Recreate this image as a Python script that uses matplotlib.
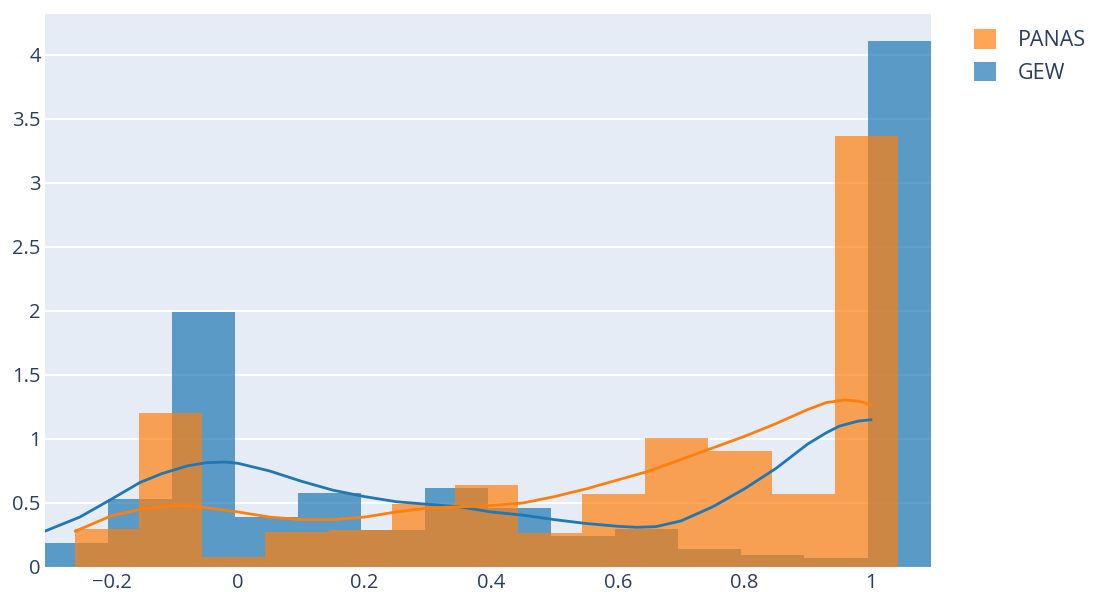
import matplotlib.pyplot as plt
from matplotlib.patches import Patch
import numpy as np

# histogram densities (bin width 0.1)
bin_size = 0.1
gew_start = -0.305
gew_density = [0.19, 0.53, 1.99, 0.39, 0.58, 0.29, 0.62, 0.46, 0.24, 0.30, 0.14, 0.094, 0.07, 4.11]
panas_start = -0.257
panas_density = [0.295, 1.20, 0.075, 0.275, 0.29, 0.49, 0.64, 0.265, 0.57, 1.01, 0.905, 0.57, 3.37]

# kde curves
gew_curve_x = [-0.305, -0.25, -0.2, -0.155, -0.12, -0.08, -0.05, -0.02, 0.0, 0.05, 0.1, 0.15, 0.2, 0.25,
               0.3, 0.35, 0.4, 0.45, 0.5, 0.55, 0.6, 0.63, 0.66, 0.7, 0.75, 0.8, 0.85, 0.9, 0.93,
               0.95, 0.98, 1.0]
gew_curve_y = [0.28, 0.39, 0.53, 0.66, 0.73, 0.79, 0.815, 0.82, 0.81, 0.75, 0.67, 0.60, 0.55, 0.51,
               0.49, 0.47, 0.43, 0.405, 0.37, 0.34, 0.318, 0.31, 0.315, 0.36, 0.47, 0.61, 0.77, 0.96,
               1.05, 1.10, 1.14, 1.15]
panas_curve_x = [-0.257, -0.2, -0.15, -0.1, -0.07, -0.03, 0.0, 0.05, 0.1, 0.15, 0.2, 0.25, 0.3, 0.35,
                 0.4, 0.45, 0.5, 0.55, 0.6, 0.65, 0.7, 0.75, 0.8, 0.85, 0.9, 0.93, 0.96, 0.98, 1.0]
panas_curve_y = [0.28, 0.40, 0.455, 0.48, 0.475, 0.45, 0.43, 0.39, 0.37, 0.37, 0.39, 0.43, 0.46, 0.47,
                 0.48, 0.50, 0.55, 0.61, 0.68, 0.75, 0.84, 0.93, 1.02, 1.12, 1.23, 1.285, 1.305, 1.295, 1.27]

blue = '#1f77b4'
orange = '#ff7f0e'
text_col = '#2a3f5f'

plt.rcParams['font.family'] = ['Open Sans', 'DejaVu Sans']

fig = plt.figure(figsize=(10.94, 5.92), dpi=100)
ax = fig.add_axes([45 / 1094, 25 / 592, 886 / 1094, 553 / 592])
ax.set_facecolor('#E5ECF6')

gew_edges = gew_start + bin_size * np.arange(len(gew_density))
panas_edges = panas_start + bin_size * np.arange(len(panas_density))
ax.bar(gew_edges, gew_density, width=bin_size, align='edge', color=blue, alpha=0.7, linewidth=0, zorder=2)
ax.bar(panas_edges, panas_density, width=bin_size, align='edge', color=orange, alpha=0.7, linewidth=0, zorder=3)

ax.plot(gew_curve_x, gew_curve_y, color=blue, lw=2.0, zorder=4, solid_joinstyle='round')
ax.plot(panas_curve_x, panas_curve_y, color=orange, lw=2.0, zorder=5, solid_joinstyle='round')

ax.set_xlim(-0.305, 1.095)
ax.set_ylim(0, 4.32)

xt = [-0.2, 0, 0.2, 0.4, 0.6, 0.8, 1]
ax.set_xticks(xt)
ax.set_xticklabels(['\u22120.2', '0', '0.2', '0.4', '0.6', '0.8', '1'])
yt = [0, 0.5, 1, 1.5, 2, 2.5, 3, 3.5, 4]
ax.set_yticks(yt)
ax.set_yticklabels(['0', '0.5', '1', '1.5', '2', '2.5', '3', '3.5', '4'])
ax.tick_params(length=0, labelsize=14.5, labelcolor=text_col)
ax.tick_params(axis='x', pad=4)
ax.tick_params(axis='y', pad=3)
ax.grid(axis='y', color='white', lw=1.3, zorder=1)
ax.set_axisbelow(True)
for s in ax.spines.values():
    s.set_visible(False)

handles = [Patch(facecolor=orange, alpha=0.7, lw=0), Patch(facecolor=blue, alpha=0.7, lw=0)]
fig.legend(handles, ['PANAS', 'GEW'], loc='upper left', bbox_to_anchor=(955 / 1094, 1 - 10 / 592),
           frameon=False, fontsize=15.5, handlelength=1.0, handleheight=1.0,
           handletextpad=1.0, labelspacing=0.5, labelcolor=text_col)

fig.savefig('out.png', dpi=100, facecolor='white')
